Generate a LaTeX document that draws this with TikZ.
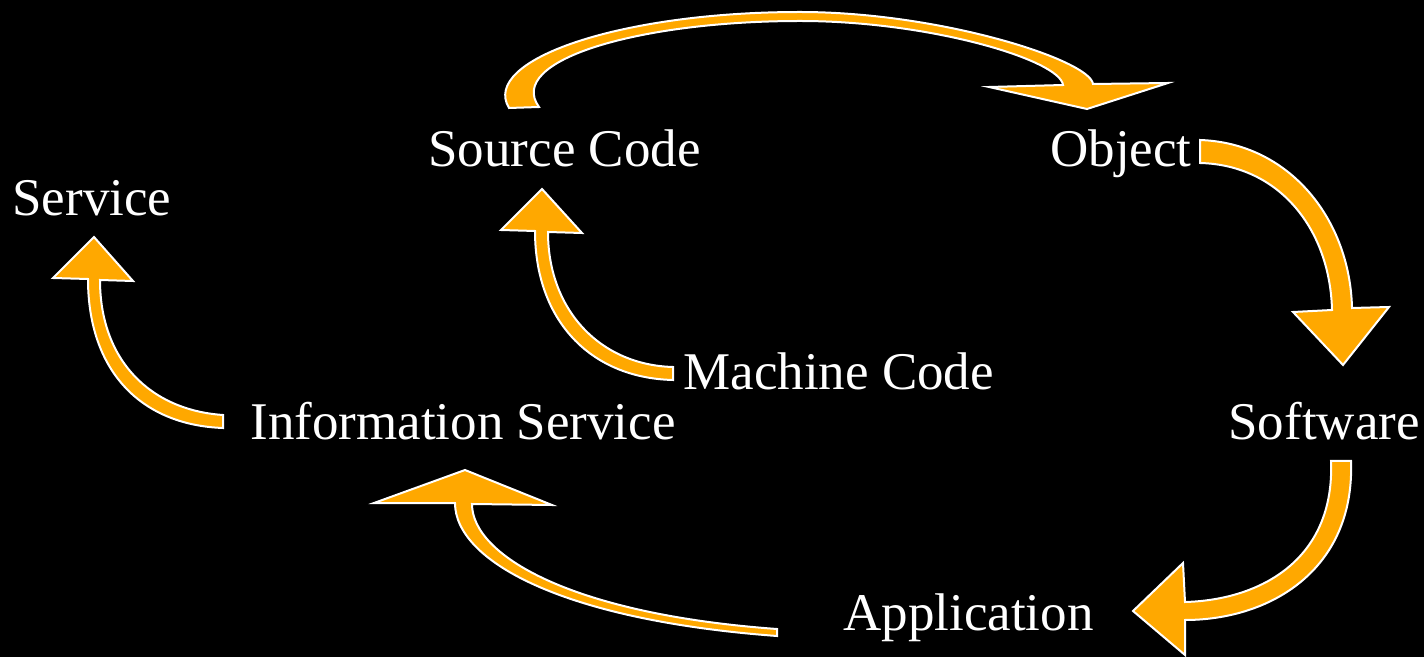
\documentclass[tikz,border=0pt]{standalone}
\usepackage{fontspec}
\setmainfont{Liberation Serif}
\definecolor{arrowfill}{HTML}{FFA800}
\begin{document}
\begin{tikzpicture}[x=0.5pt,y=-0.5pt,
  label/.style={text=white,inner sep=0pt,anchor=base west,font=\fontsize{26.5}{30}\selectfont},
  blockarrow/.style={fill=arrowfill,draw=white,line width=1pt,line join=miter}]
\fill[black] (0,0) rectangle (1424,657);
\useasboundingbox (0,0) rectangle (1424,657);

% labels
\node[label] (service) at (12,216) {Service};
\node[label] (source) at (428,167) {Source Code};
\node[label] (object) at (1050,167) {Object};
\node[label] (machine) at (683,390) {Machine Code};
\node[label] (info) at (250,440) {Information Service};
\node[label] (software) at (1228,440) {Software};
\node[label] (app) at (843,630) {Application};

% Source Code -> Object
\draw[blockarrow] (509,108) .. controls (480,60) and (620,12) .. (800,12)
  .. controls (940,12) and (1090,60) .. (1093,84)
  -- (1168,83) -- (1087,109) -- (989,87) -- (1063,85)
  .. controls (1060,60) and (930,21) .. (800,21)
  .. controls (640,21) and (505,60) .. (539,107) -- cycle;

% Object -> Software
\draw[blockarrow] (1200,140) .. controls (1290,143) and (1350,220) .. (1352,308)
  -- (1389,307) -- (1343,365) -- (1293,312) -- (1332,310)
  .. controls (1330,230) and (1280,165) .. (1200,163) -- cycle;

% Software -> Application
\draw[blockarrow] (1351,461) .. controls (1355,570) and (1270,620) .. (1185,620)
  -- (1185,655) -- (1133,611) -- (1183,563) -- (1185,602)
  .. controls (1260,600) and (1335,560) .. (1331,461) -- cycle;

% Application -> Information Service
\draw[blockarrow] (777,636) .. controls (560,620) and (455,560) .. (455,503)
  -- (374,503) -- (465,470) -- (552,505) -- (472,504)
  .. controls (472,555) and (570,614) .. (777,629) -- cycle;

% Information Service -> Service
\draw[blockarrow] (223,428) .. controls (140,425) and (88,370) .. (88,279)
  -- (53,278) -- (94,237) -- (133,281) -- (100,280)
  .. controls (100,360) and (150,410) .. (223,415) -- cycle;

% Machine Code -> Source Code
\draw[blockarrow] (673,380) .. controls (590,378) and (535,320) .. (535,231)
  -- (501,230) -- (542,189) -- (582,233) -- (548,232)
  .. controls (548,310) and (600,365) .. (673,367) -- cycle;
\end{tikzpicture}
\end{document}
